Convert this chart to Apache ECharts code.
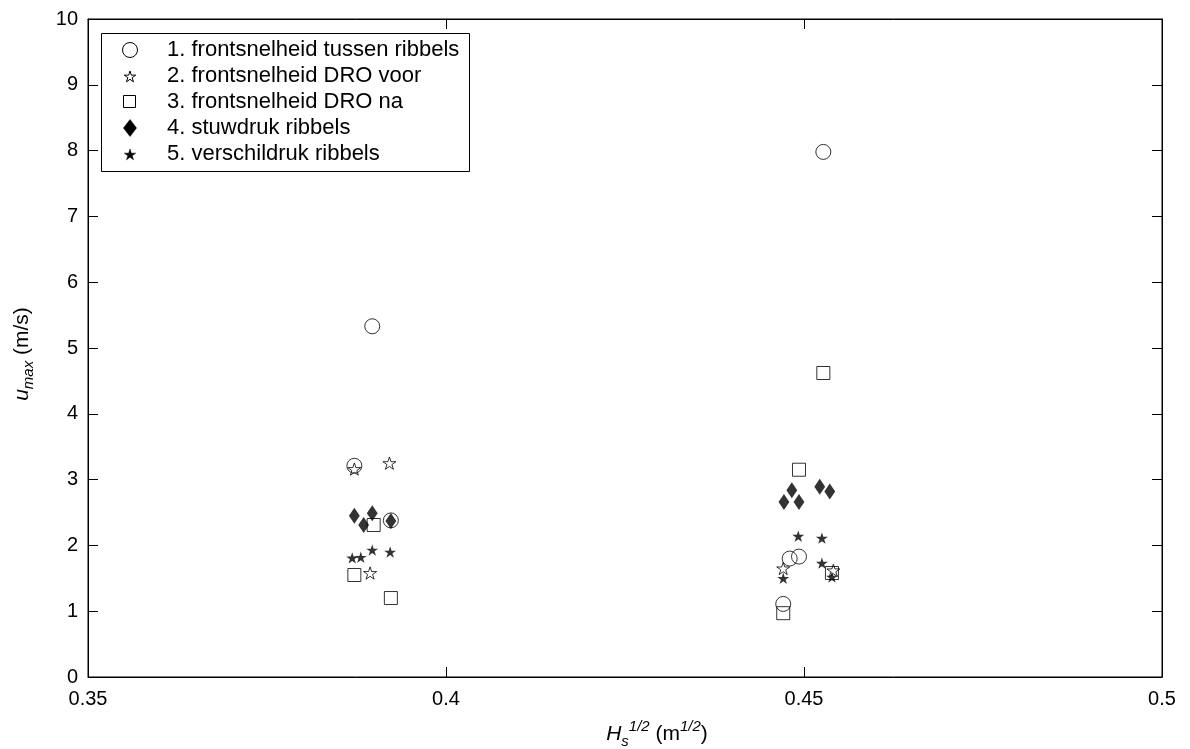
<!DOCTYPE html>
<html><head><meta charset="utf-8">
<script src="https://cdn.jsdelivr.net/npm/echarts@6/dist/echarts.min.js"></script>
<style>html,body{margin:0;padding:0;background:#fff}#c{width:1190px;height:749px}</style>
</head><body><div id="c"></div>
<script>
const seriesNames = [
  '1. frontsnelheid tussen ribbels',
  '2. frontsnelheid DRO voor',
  '3. frontsnelheid DRO na',
  '4. stuwdruk ribbels',
  '5. verschildruk ribbels'
];
const xTicks = [0.35, 0.4, 0.45, 0.5];
const yTicks = [0,1,2,3,4,5,6,7,8,9,10];

// 1. circles
const s1x = [0.3897, 0.3872, 0.3923, 0.4527, 0.4480, 0.4493, 0.4471];
const s1y = [5.33, 3.21, 2.38, 7.98, 1.80, 1.83, 1.11];
// 2. open stars
const s2x = [0.3872, 0.3921, 0.3894, 0.4471, 0.4541];
const s2y = [3.16, 3.25, 1.58, 1.65, 1.62];
// 3. squares
const s3x = [0.3872, 0.3899, 0.3923, 0.4493, 0.4527, 0.4539, 0.4471];
const s3y = [1.55, 2.31, 1.20, 3.15, 4.62, 1.58, 0.97];
// 4. diamonds
const s4x = [0.3872, 0.3897, 0.3885, 0.3923, 0.4472, 0.4483, 0.4493, 0.4522, 0.4536];
const s4y = [2.45, 2.49, 2.31, 2.37, 2.66, 2.84, 2.66, 2.89, 2.82];
// 5. filled stars
const s5x = [0.3869, 0.3881, 0.3897, 0.3922, 0.4492, 0.4525, 0.4525, 0.4471, 0.4539];
const s5y = [1.81, 1.82, 1.93, 1.90, 2.14, 2.11, 1.73, 1.50, 1.52];

const STAR = 'path://M0,-100L22.45,-30.9L95.1,-30.9L36.3,11.8L58.8,80.9L0,38.2L-58.8,80.9L-36.3,11.8L-95.1,-30.9L-22.45,-30.9Z';
const SQUARE = 'path://M0,0L10,0L10,10L0,10Z';
const DIAMOND = 'path://M5,0L10,6L5,12L0,6Z';

function pairs(xs, ys){ return xs.map((x,i)=>[x, ys[i]]); }
const FONT = '"Liberation Sans", Arial, sans-serif';
const FS = 20;      // tick labels
const LFS = 22;     // legend text

const hollow = () => ({color:'rgba(0,0,0,0)', borderColor:'#000', borderWidth:1});
const filled = () => ({color:'#000', borderColor:'#000', borderWidth:0});

const defs = [
  {data: pairs(s1x,s1y), symbol:'circle', size:15, style:hollow()},
  {data: pairs(s2x,s2y), symbol:STAR, size:13, style:hollow()},
  {data: pairs(s3x,s3y), symbol:SQUARE, size:13, style:hollow()},
  {data: pairs(s4x,s4y), symbol:DIAMOND, size:[13,16], style:filled()},
  {data: pairs(s5x,s5y), symbol:STAR, size:12, style:filled()}
];

const G = {left:88, right:28, top:19, bottom:72};

// ---- legend drawn as graphic (layout only) ----
const ctx = document.createElement('canvas').getContext('2d');
ctx.font = LFS + 'px "Liberation Sans"';
const textW = Math.max.apply(null, seriesNames.map(n => ctx.measureText(n).width));
const L = {x:101, y:33, bottom:171, rowH:26, first:50, symX:130, textX:167, padR:10};
const boxW = L.textX + textW + L.padR - L.x;

function starPoints(cx, cy, r){
  const pts = [];
  for (let k=0;k<10;k++){
    const a = k*Math.PI/5;
    const rr = (k%2===0) ? r : r*0.382;
    pts.push([cx + rr*Math.sin(a), cy - rr*Math.cos(a)]);
  }
  return pts;
}
const legendGraphics = [{
  type:'rect', z:100,
  shape:{x:L.x+0.5, y:L.y+0.5, width:Math.round(boxW), height:L.bottom-L.y},
  style:{fill:'#fff', stroke:'#000', lineWidth:1}
}];
const hs = {fill:'#fff', stroke:'#000', lineWidth:1};
const fs = {fill:'#000', stroke:'#000', lineWidth:0.5};
seriesNames.forEach((n,i)=>{
  const cy = L.first + i*L.rowH;
  let g;
  if (i===0) g = {type:'circle', shape:{cx:L.symX, cy:cy, r:7.5}, style:hs};
  else if (i===1) g = {type:'polygon', shape:{points:starPoints(L.symX, cy+1, 6)}, style:hs};
  else if (i===2) g = {type:'rect', shape:{x:L.symX-6.5, y:cy-6.5, width:12, height:12}, style:hs};
  else if (i===3) g = {type:'polygon', shape:{points:[[L.symX,cy-8.5],[L.symX+6.5,cy],[L.symX,cy+8.5],[L.symX-6.5,cy]]}, style:fs};
  else g = {type:'polygon', shape:{points:starPoints(L.symX, cy+1, 6)}, style:fs};
  g.z = 101;
  legendGraphics.push(g);
  legendGraphics.push({type:'text', z:101, x:L.textX, y:cy,
    style:{text:n, fill:'#000', font:LFS+'px "Liberation Sans", Arial, sans-serif', verticalAlign:'middle'}});
});

const chart = echarts.init(document.getElementById('c'), null, {renderer:'canvas'});
const mkLine = () => ({show:true, onZero:false, lineStyle:{color:'#000', width:1}});
const mkTick = () => ({show:true, inside:true, length:10, lineStyle:{color:'#000', width:1}});
const labelStyle = () => ({color:'#000', fontSize:FS, fontFamily:FONT});

chart.setOption({
  animation:false,
  backgroundColor:'#fff',
  grid:{left:G.left, right:G.right, top:G.top, bottom:G.bottom, containLabel:false, outerBoundsMode:'none',
        show:true, borderColor:'#000', borderWidth:1, backgroundColor:'rgba(0,0,0,0)'},
  xAxis:[{
    type:'value', min:xTicks[0], max:xTicks[xTicks.length-1], interval:0.05, position:'bottom',
    axisLine:mkLine(), axisTick:mkTick(), splitLine:{show:false},
    axisLabel:Object.assign({margin:12}, labelStyle()),
    name:'{it|H}{sub|s}{sup|1/2}{n| (m}{sup|1/2}{n|)}',
    nameLocation:'middle', nameGap:42,
    nameTextStyle:{color:'#000', fontFamily:FONT, padding:[0,0,0,64], rich:{
      it:{fontSize:21, fontStyle:'italic', fontFamily:FONT, color:'#000', lineHeight:30, verticalAlign:'middle'},
      sub:{fontSize:15, fontStyle:'italic', fontFamily:FONT, color:'#000', verticalAlign:'bottom', lineHeight:18},
      sup:{fontSize:15, fontStyle:'italic', fontFamily:FONT, color:'#000', verticalAlign:'top', lineHeight:16},
      n:{fontSize:21, fontFamily:FONT, color:'#000', lineHeight:30, verticalAlign:'middle'}
    }}
  },{
    type:'value', min:xTicks[0], max:xTicks[xTicks.length-1], interval:0.05, position:'top',
    axisLine:mkLine(), axisTick:mkTick(), axisLabel:{show:false}, splitLine:{show:false}
  }],
  yAxis:[{
    type:'value', min:yTicks[0], max:yTicks[yTicks.length-1], interval:1, position:'left',
    axisLine:mkLine(), axisTick:mkTick(), splitLine:{show:false},
    axisLabel:Object.assign({margin:10}, labelStyle()),
    name:'{it|u}{sub|max}{n| (m/s)}',
    nameLocation:'middle', nameGap:52, nameRotate:90,
    nameTextStyle:{color:'#000', fontFamily:FONT, padding:[0,12,0,0], rich:{
      it:{fontSize:21, fontStyle:'italic', fontFamily:FONT, color:'#000', lineHeight:28, verticalAlign:'middle'},
      sub:{fontSize:15, fontStyle:'italic', fontFamily:FONT, color:'#000', verticalAlign:'bottom', lineHeight:17},
      n:{fontSize:21, fontFamily:FONT, color:'#000', lineHeight:28, verticalAlign:'middle'}
    }}
  },{
    type:'value', min:yTicks[0], max:yTicks[yTicks.length-1], interval:1, position:'right',
    axisLine:mkLine(), axisTick:mkTick(), axisLabel:{show:false}, splitLine:{show:false}
  }],
  graphic: legendGraphics,
  series: defs.map((d,i)=>({
    type:'scatter', name:seriesNames[i], data:d.data, symbol:d.symbol, symbolSize:d.size,
    symbolKeepAspect:true, itemStyle:d.style, z: 2+i, xAxisIndex:0, yAxisIndex:0,
    emphasis:{disabled:true}
  }))
});
</script></body></html>
